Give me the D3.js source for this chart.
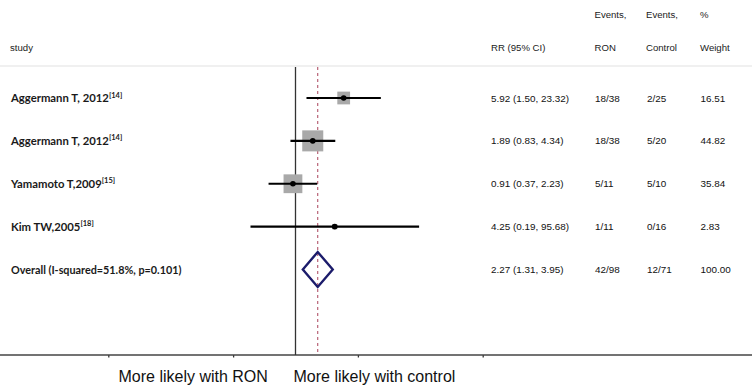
<!DOCTYPE html>
<html>
<head>
<meta charset="utf-8">
<script src="https://cdn.jsdelivr.net/npm/d3@7"></script>
<style>
  body { margin: 0; background: #fff; }
  svg { display: block; }
</style>
</head>
<body>
<div id="container"></div>
<script>
let w = 752;
let h = 389;

// data
let studies = ["Aggermann T, 2012", "Aggermann T, 2012", "Yamamoto T,2009", "Kim TW,2005"];
let refs = ["[14]", "[14]", "[15]", "[18]"];
let rr = [5.92, 1.89, 0.91, 4.25];
let lo = [1.50, 0.83, 0.37, 0.19];
let hi = [23.32, 4.34, 2.23, 95.68];
let eventsRON = ["18/38", "18/38", "5/11", "1/11"];
let eventsControl = ["2/25", "5/20", "5/10", "0/16"];
let weights = [16.51, 44.82, 35.84, 2.83];

let overallLabel = "Overall (I-squared=51.8%, p=0.101)";
let overallRR = [2.27, 1.31, 3.95];
let overallRON = "42/98";
let overallControl = "12/71";
let overallWeight = 100;

let axisTicks = [0.001, 0.1, 10, 1000];

let rows = studies.map((s, i) => ({
  study: s, ref: refs[i], rr: rr[i], lo: lo[i], hi: hi[i],
  ron: eventsRON[i], ctrl: eventsControl[i], weight: weights[i], i: i
}));

let viz = d3.select('#container')
              .append("svg")
                .attr("width", w)
                .attr("height", h)
                .style("background-color", "#fff");

// scales
let x = d3.scaleLog().domain([0.001, 1000]).range([108.3, 482.7]);
let y = d3.scaleLinear().domain([0, 4]).range([98, 269.5]);
let size = d3.scaleSqrt().domain([0, 100]).range([0, 31.4]);

let plotTop = 67, plotBottom = 355;

// header
let headFont = "'Liberation Sans', Arial, sans-serif";
let head = viz.append("g").style("font-family", headFont).style("font-size", "9.6px").attr("fill", "#222");
head.append("text").attr("x", 10).attr("y", 51).text("study");
head.append("text").attr("x", 491).attr("y", 51).text("RR (95% CI)");
head.append("text").attr("x", 594.5).attr("y", 18).text("Events,");
head.append("text").attr("x", 594.5).attr("y", 51).text("RON");
head.append("text").attr("x", 646).attr("y", 18).text("Events,");
head.append("text").attr("x", 646).attr("y", 51).text("Control");
head.append("text").attr("x", 700).attr("y", 18).text("%");
head.append("text").attr("x", 700).attr("y", 51).text("Weight");

viz.append("line")
    .attr("x1", 0).attr("x2", w)
    .attr("y1", 66).attr("y2", 66)
    .attr("stroke", "#e2e2e2").attr("stroke-width", 1.2);

// axis along the bottom
let axis = d3.axisBottom(x).tickValues(axisTicks).tickSize(2.5).tickFormat("");
let axisG = viz.append("g").attr("transform", "translate(0," + plotBottom + ")").call(axis);
axisG.select(".domain").remove();
axisG.selectAll(".tick line").attr("stroke", "#333").attr("stroke-width", 1.3);
axisG.append("line").attr("x1", 0).attr("x2", w).attr("stroke", "#444").attr("stroke-width", 1.3);

// null line
viz.append("line")
    .attr("x1", x(1)).attr("x2", x(1))
    .attr("y1", plotTop).attr("y2", plotBottom)
    .attr("stroke", "#333").attr("stroke-width", 1.3);

// overall effect line
viz.append("line")
    .attr("x1", x(overallRR[0])).attr("x2", x(overallRR[0]))
    .attr("y1", plotTop).attr("y2", plotBottom)
    .attr("stroke", "#b2556a").attr("stroke-width", 1.1)
    .style("stroke-dasharray", "3,3");

// study rows
let groups = viz.selectAll(".row").data(rows).enter()
                .append("g").attr("class", "row");

groups.append("rect")
    .attr("x", d => x(d.rr) - size(d.weight) / 2)
    .attr("y", d => y(d.i) - size(d.weight) / 2)
    .attr("width", d => size(d.weight))
    .attr("height", d => size(d.weight))
    .attr("fill", "#a9a9a9");

groups.append("line")
    .attr("x1", d => x(d.lo)).attr("x2", d => x(d.hi))
    .attr("y1", d => y(d.i)).attr("y2", d => y(d.i))
    .attr("stroke", "#000").attr("stroke-width", 2.2);

groups.append("circle")
    .attr("cx", d => x(d.rr)).attr("cy", d => y(d.i))
    .attr("r", 2.8).attr("fill", "#000");

let labelFont = "Lato, 'Open Sans', sans-serif";
let lab = groups.append("text")
    .attr("x", 11).attr("y", d => y(d.i) + 4)
    .style("font-family", labelFont).style("font-weight", 700).style("font-size", "11.3px")
    .attr("fill", "#1a1a1a");
lab.append("tspan").text(d => d.study);
lab.append("tspan").attr("dy", -4.5).style("font-size", "7.5px").text(d => d.ref);

let fmt = d3.format(".2f");
let colText = groups.append("g").style("font-family", headFont).style("font-size", "9.9px").attr("fill", "#111");
colText.append("text").attr("x", 491).attr("y", d => y(d.i) + 3.5)
    .text(d => fmt(d.rr) + " (" + fmt(d.lo) + ", " + fmt(d.hi) + ")");
colText.append("text").attr("x", 595).attr("y", d => y(d.i) + 3.5).text(d => d.ron);
colText.append("text").attr("x", 647).attr("y", d => y(d.i) + 3.5).text(d => d.ctrl);
colText.append("text").attr("x", 700.5).attr("y", d => y(d.i) + 3.5).text(d => fmt(d.weight));

// overall row
let oy = y(4);
viz.append("polygon")
    .attr("points", [
      [x(overallRR[1]), oy], [x(overallRR[0]), oy - 17.5],
      [x(overallRR[2]), oy], [x(overallRR[0]), oy + 17.5]
    ].map(p => p.join(",")).join(" "))
    .attr("fill", "none").attr("stroke", "#1c1c6b").attr("stroke-width", 2.4);

viz.append("text").attr("x", 11).attr("y", oy + 4)
    .style("font-family", labelFont).style("font-weight", 700).style("font-size", "10.8px")
    .attr("fill", "#1a1a1a").text(overallLabel);

let ot = viz.append("g").style("font-family", headFont).style("font-size", "9.9px").attr("fill", "#111");
ot.append("text").attr("x", 491).attr("y", oy + 3.5)
    .text(fmt(overallRR[0]) + " (" + fmt(overallRR[1]) + ", " + fmt(overallRR[2]) + ")");
ot.append("text").attr("x", 595).attr("y", oy + 3.5).text(overallRON);
ot.append("text").attr("x", 647).attr("y", oy + 3.5).text(overallControl);
ot.append("text").attr("x", 700.5).attr("y", oy + 3.5).text(fmt(overallWeight));

// bottom captions
let cap = viz.append("g").style("font-family", headFont).style("font-size", "16px").attr("fill", "#111");
cap.append("text").attr("x", 118.5).attr("y", 382).text("More likely with RON");
cap.append("text").attr("x", 293.5).attr("y", 382).text("More likely with control");
</script>
</body>
</html>
